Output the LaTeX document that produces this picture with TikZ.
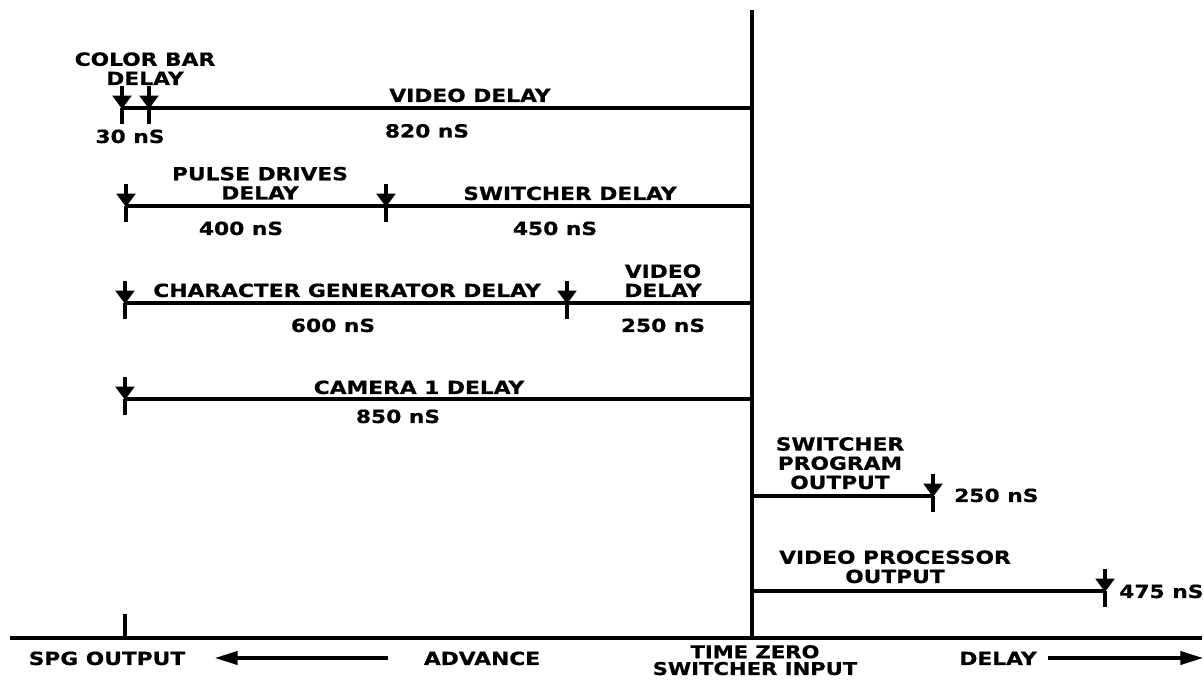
\documentclass[tikz,border=0pt]{standalone}
\usepackage{fontspec}
\setmainfont{DejaVu Sans}[FakeStretch=1.2,BoldFeatures={FakeBold=0.6}]
\usetikzlibrary{arrows.meta,calc,positioning}
\tikzset{
  rowline/.style={line width=2.3pt},
  zeroline/.style={line width=2.4pt},
  axisline/.style={line width=3pt},
  tickarr/.style={-{Triangle[length=10pt,width=14pt]},line width=2.3pt},
  dirarr/.style={-{Triangle[length=17pt,width=10pt]},line width=2.3pt},
  lbl/.style={font=\bfseries\fontsize{13.6}{14.4}\selectfont,inner sep=0pt,align=center,anchor=base},
  tightlbl/.style={lbl,font=\bfseries\fontsize{13.2}{12.6}\selectfont}
}
\newcommand{\delaytick}[1]{%
  \draw[tickarr] ($(#1)+(0,-22)$) -- ($(#1)+(0,1)$);
  \draw[rowline] (#1) -- ($(#1)+(0,16)$);}

\begin{document}
\begin{tikzpicture}[x=0.75pt,y=-0.75pt]
  \useasboundingbox (0,0) rectangle (1204,680);

  % time axis and time zero
  \coordinate (axl) at (10,638); \coordinate (axr) at (1202,638);
  \coordinate (ztop) at (752,10); \coordinate (zbot) at (752,638);
  \draw[axisline] (axl) -- (axr);
  \draw[zeroline] (ztop) -- (zbot);
  \coordinate (spg) at (125,638); \coordinate (spgtop) at (125,614);
  \draw[rowline] (spg) -- (spgtop);

  % color bar / video
  \coordinate (cb) at (122,108); \coordinate (vd) at (149,108); \coordinate (r1) at (752,108);
  \draw[rowline] (cb) -- (r1);
  \delaytick{cb} \delaytick{vd}
  \node[lbl] (cblbl) at (145,85) {COLOR BAR\\DELAY};
  \node[lbl] (cbns) at (130,143) {30 nS};
  \node[lbl] (vdlbl) at (470,102) {VIDEO DELAY};
  \node[lbl] (vdns) at (427,137.5) {820 nS};

  % pulse drives / switcher
  \coordinate (pd) at (126,206); \coordinate (sw) at (386,206); \coordinate (r2) at (752,206);
  \draw[rowline] (pd) -- (r2);
  \delaytick{pd} \delaytick{sw}
  \node[lbl] (pdlbl) at (260,199.5) {PULSE DRIVES\\DELAY};
  \node[lbl] (pdns) at (241,235) {400 nS};
  \node[lbl] (swlbl) at (570,200) {SWITCHER DELAY};
  \node[lbl] (swns) at (555,235) {450 nS};

  % character generator / video
  \coordinate (cg) at (125,303); \coordinate (cv) at (567,303); \coordinate (r3) at (752,303);
  \draw[rowline] (cg) -- (r3);
  \delaytick{cg} \delaytick{cv}
  \node[lbl] (cglbl) at (347,297) {CHARACTER GENERATOR DELAY};
  \node[lbl] (cgns) at (333,332) {600 nS};
  \node[lbl] (cvlbl) at (663,297) {VIDEO\\DELAY};
  \node[lbl] (cvns) at (663,332) {250 nS};

  % camera 1
  \coordinate (cam) at (125,399); \coordinate (r4) at (752,399);
  \draw[rowline] (cam) -- (r4);
  \delaytick{cam}
  \node[lbl] (camlbl) at (419,394) {CAMERA 1 DELAY};
  \node[lbl] (camns) at (398,423) {850 nS};

  % outputs after time zero
  \coordinate (r5) at (752,496); \coordinate (pgm) at (933,496);
  \draw[rowline] (r5) -- (pgm);
  \delaytick{pgm}
  \node[lbl] (pgmlbl) at (840,489) {SWITCHER\\PROGRAM\\OUTPUT};
  \node[lbl,anchor=base west] (pgmns) at (954,502) {250 nS};

  \coordinate (r6) at (752,591); \coordinate (vp) at (1105,591);
  \draw[rowline] (r6) -- (vp);
  \delaytick{vp}
  \node[lbl] (vplbl) at (895,583) {VIDEO PROCESSOR\\OUTPUT};
  \node[lbl,anchor=base west] (vpns) at (1119,598) {475 nS};

  % axis labels
  \node[lbl] (spglbl) at (107,665) {SPG OUTPUT};
  \node[lbl] (advlbl) at (482,665) {ADVANCE};
  \node[tightlbl] (zerolbl) at (755,675) {TIME ZERO\\SWITCHER INPUT};
  \node[lbl] (dlylbl) at (998,665) {DELAY};
  \coordinate (advtail) at (388,658); \coordinate (advtip) at (215,658);
  \coordinate (dlytail) at (1048,658); \coordinate (dlytip) at (1203,658);
  \draw[dirarr] (advtail) -- (advtip);
  \draw[dirarr] (dlytail) -- (dlytip);
\end{tikzpicture}
\end{document}
